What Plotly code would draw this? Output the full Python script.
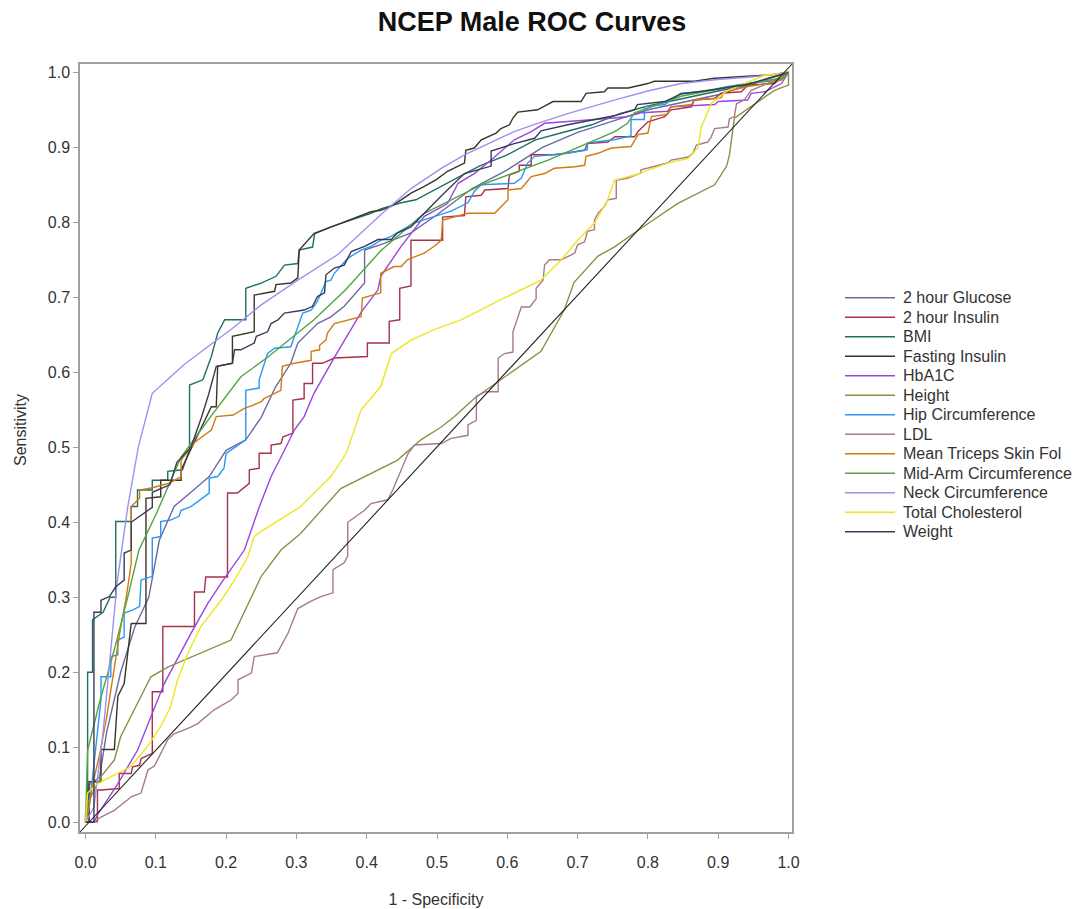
import plotly.graph_objects as go

# ---------------- data ----------------
series_names = ["2 hour Glucose", "2 hour Insulin", "BMI", "Fasting Insulin", "HbA1C", "Height",
                "Hip Circumference", "LDL", "Mean Triceps Skin Fol", "Mid-Arm Circumference",
                "Neck Circumference", "Total Cholesterol", "Weight"]

tick_values = [0.0, 0.1, 0.2, 0.3, 0.4, 0.5, 0.6, 0.7, 0.8, 0.9, 1.0]
tick_labels = ["0.0", "0.1", "0.2", "0.3", "0.4", "0.5", "0.6", "0.7", "0.8", "0.9", "1.0"]

glucose2h_fpr = [0, 0.005, 0.005, 0.02, 0.03, 0.05, 0.07, 0.09, 0.105, 0.126, 0.15, 0.176, 0.2, 0.228, 0.25,
                 0.27, 0.292, 0.302, 0.33, 0.349, 0.368, 0.397, 0.397, 0.425, 0.463, 0.5, 0.55, 0.6, 0.65,
                 0.7, 0.75, 0.8, 0.85, 0.9, 0.95, 1.0]
glucose2h_tpr = [0, 0.0, 0.05, 0.06, 0.12, 0.2, 0.26, 0.3, 0.376, 0.421, 0.44, 0.461, 0.496, 0.51, 0.54,
                 0.58, 0.612, 0.639, 0.665, 0.674, 0.688, 0.719, 0.763, 0.772, 0.786, 0.81, 0.845, 0.87, 0.9,
                 0.92, 0.935, 0.95, 0.96, 0.97, 0.985, 1.0]

insulin2h_fpr = [0, 0.017, 0.017, 0.022, 0.048, 0.048, 0.065, 0.067, 0.077, 0.079, 0.095, 0.095, 0.110, 0.110,
                 0.155, 0.155, 0.169, 0.171, 0.202, 0.202, 0.216, 0.233, 0.233, 0.247, 0.247, 0.264, 0.264,
                 0.278, 0.281, 0.295, 0.295, 0.311, 0.311, 0.323, 0.323, 0.337, 0.354, 0.401, 0.401, 0.432,
                 0.432, 0.447, 0.447, 0.463, 0.463, 0.508, 0.508, 0.539, 0.541, 0.563, 0.568, 0.601, 0.603,
                 0.617, 0.617, 0.634, 0.634, 0.667, 0.710, 0.714, 0.743, 0.753, 0.781, 0.786, 0.800, 0.824,
                 0.833, 0.862, 0.866, 0.895, 0.904, 0.933, 0.942, 0.980, 0.990, 1.0]
insulin2h_tpr = [0, 0.001, 0.043, 0.043, 0.045, 0.065, 0.065, 0.074, 0.076, 0.085, 0.092, 0.174, 0.174, 0.261,
                 0.261, 0.307, 0.307, 0.327, 0.327, 0.439, 0.439, 0.452, 0.470, 0.472, 0.492, 0.492, 0.503,
                 0.505, 0.514, 0.519, 0.563, 0.565, 0.585, 0.585, 0.612, 0.612, 0.619, 0.621, 0.639, 0.639,
                 0.668, 0.670, 0.712, 0.715, 0.776, 0.776, 0.807, 0.809, 0.834, 0.836, 0.843, 0.845, 0.863,
                 0.868, 0.876, 0.876, 0.890, 0.890, 0.896, 0.905, 0.907, 0.914, 0.914, 0.921, 0.934, 0.941,
                 0.950, 0.954, 0.963, 0.965, 0.972, 0.974, 0.983, 0.985, 0.992, 1.0]

bmi_fpr = [0, 0, 0.003, 0.003, 0.010, 0.010, 0.025, 0.035, 0.043, 0.043, 0.065, 0.065, 0.074, 0.074, 0.095,
           0.095, 0.117, 0.117, 0.138, 0.148, 0.148, 0.167, 0.179, 0.188, 0.198, 0.228, 0.228, 0.250, 0.271,
           0.283, 0.302, 0.304, 0.323, 0.326, 0.349, 0.378, 0.406, 0.420, 0.449, 0.470, 0.500, 0.530, 0.560,
           0.600, 0.640, 0.680, 0.720, 0.760, 0.800, 0.850, 0.900, 0.950, 1.0]
bmi_tpr = [0, 0.012, 0.012, 0.200, 0.200, 0.270, 0.280, 0.300, 0.300, 0.401, 0.401, 0.421, 0.421, 0.443, 0.443,
           0.456, 0.456, 0.468, 0.470, 0.497, 0.583, 0.590, 0.621, 0.652, 0.670, 0.670, 0.712, 0.719, 0.728,
           0.743, 0.745, 0.763, 0.767, 0.785, 0.794, 0.803, 0.812, 0.818, 0.826, 0.830, 0.845, 0.860, 0.875,
           0.890, 0.910, 0.920, 0.930, 0.945, 0.955, 0.965, 0.975, 0.985, 1.0]

fasting_fpr = [0, 0.005, 0.005, 0.022, 0.022, 0.041, 0.046, 0.055, 0.065, 0.086, 0.086, 0.107, 0.107, 0.136,
               0.136, 0.179, 0.186, 0.188, 0.209, 0.209, 0.240, 0.240, 0.269, 0.271, 0.292, 0.302, 0.304, 0.325,
               0.361, 0.406, 0.420, 0.434, 0.449, 0.463, 0.482, 0.499, 0.515, 0.527, 0.539, 0.541, 0.553, 0.563,
               0.584, 0.591, 0.603, 0.608, 0.615, 0.643, 0.665, 0.705, 0.712, 0.738, 0.743, 0.772, 0.800, 0.809,
               0.866, 0.895, 0.942, 0.980, 1.0]
fasting_tpr = [0, 0.0, 0.054, 0.054, 0.097, 0.097, 0.168, 0.185, 0.265, 0.265, 0.432, 0.434, 0.456, 0.456,
               0.470, 0.554, 0.554, 0.608, 0.612, 0.648, 0.654, 0.703, 0.708, 0.717, 0.719, 0.726, 0.763, 0.785,
               0.798, 0.814, 0.816, 0.821, 0.830, 0.839, 0.848, 0.857, 0.868, 0.874, 0.879, 0.896, 0.899, 0.910,
               0.919, 0.925, 0.930, 0.939, 0.947, 0.950, 0.961, 0.961, 0.972, 0.974, 0.979, 0.979, 0.985, 0.988,
               0.988, 0.992, 0.995, 0.997, 1.0]

hba1c_fpr = [0, 0.012, 0.017, 0.045, 0.074, 0.095, 0.112, 0.150, 0.174, 0.193, 0.226, 0.247, 0.264, 0.283,
             0.297, 0.311, 0.325, 0.354, 0.392, 0.416, 0.420, 0.449, 0.482, 0.515, 0.530, 0.553, 0.577, 0.610,
             0.634, 0.653, 0.686, 0.714, 0.752, 0.771, 0.790, 0.828, 0.833, 0.895, 0.900, 0.942, 0.947, 0.966,
             0.990, 1.0]
hba1c_tpr = [0, 0.0, 0.010, 0.050, 0.096, 0.145, 0.185, 0.252, 0.292, 0.319, 0.363, 0.420, 0.461, 0.496,
             0.523, 0.541, 0.572, 0.620, 0.680, 0.710, 0.728, 0.768, 0.808, 0.825, 0.852, 0.865, 0.883, 0.910,
             0.921, 0.932, 0.934, 0.936, 0.939, 0.941, 0.946, 0.948, 0.954, 0.957, 0.961, 0.963, 0.972, 0.974,
             0.985, 1.0]

height_fpr = [0, 0.003, 0.022, 0.041, 0.050, 0.069, 0.093, 0.117, 0.207, 0.250, 0.278, 0.306, 0.363, 0.444,
              0.477, 0.506, 0.525, 0.553, 0.586, 0.648, 0.681, 0.695, 0.729, 0.752, 0.795, 0.842, 0.895, 0.912,
              0.916, 0.923, 0.980, 1.0, 1.0]
height_tpr = [0, 0.025, 0.061, 0.083, 0.114, 0.150, 0.194, 0.207, 0.243, 0.328, 0.363, 0.385, 0.445, 0.483,
              0.510, 0.527, 0.541, 0.565, 0.587, 0.628, 0.683, 0.720, 0.755, 0.767, 0.795, 0.825, 0.850, 0.875,
              0.890, 0.939, 0.976, 0.983, 1.0]

hip_fpr = [0, 0.005, 0.010, 0.015, 0.022, 0.022, 0.036, 0.036, 0.046, 0.046, 0.055, 0.055, 0.067, 0.077, 0.079,
           0.095, 0.095, 0.107, 0.107, 0.121, 0.133, 0.136, 0.150, 0.176, 0.176, 0.188, 0.197, 0.200, 0.221,
           0.228, 0.228, 0.247, 0.247, 0.259, 0.269, 0.292, 0.309, 0.321, 0.328, 0.333, 0.342, 0.349, 0.354,
           0.373, 0.392, 0.406, 0.420, 0.434, 0.467, 0.496, 0.520, 0.544, 0.553, 0.563, 0.610, 0.620, 0.629,
           0.639, 0.686, 0.714, 0.714, 0.752, 0.776, 0.776, 0.795, 0.795, 0.824, 0.847, 0.876, 0.914, 0.942,
           0.990, 1.0]
hip_tpr = [0, 0.020, 0.060, 0.100, 0.163, 0.194, 0.194, 0.221, 0.223, 0.243, 0.247, 0.279, 0.283, 0.288, 0.323,
           0.328, 0.379, 0.381, 0.401, 0.403, 0.408, 0.416, 0.421, 0.439, 0.459, 0.461, 0.472, 0.492, 0.505,
           0.510, 0.576, 0.579, 0.590, 0.625, 0.632, 0.634, 0.679, 0.683, 0.692, 0.701, 0.721, 0.723, 0.732,
           0.752, 0.763, 0.768, 0.776, 0.781, 0.799, 0.808, 0.815, 0.826, 0.841, 0.850, 0.852, 0.859, 0.879,
           0.888, 0.892, 0.897, 0.906, 0.910, 0.915, 0.937, 0.937, 0.954, 0.957, 0.972, 0.974, 0.981, 0.985,
           0.990, 1.0]

ldl_fpr = [0, 0.012, 0.022, 0.041, 0.060, 0.065, 0.079, 0.089, 0.098, 0.107, 0.117, 0.126, 0.150, 0.160, 0.183,
           0.207, 0.217, 0.217, 0.236, 0.240, 0.273, 0.288, 0.297, 0.302, 0.321, 0.335, 0.352, 0.352, 0.368,
           0.373, 0.373, 0.397, 0.406, 0.430, 0.437, 0.449, 0.459, 0.468, 0.506, 0.520, 0.544, 0.544, 0.556,
           0.556, 0.568, 0.587, 0.587, 0.596, 0.608, 0.608, 0.620, 0.632, 0.641, 0.641, 0.651, 0.653, 0.660,
           0.677, 0.696, 0.700, 0.710, 0.714, 0.724, 0.724, 0.729, 0.738, 0.743, 0.755, 0.755, 0.772, 0.790,
           0.790, 0.809, 0.828, 0.833, 0.857, 0.864, 0.869, 0.885, 0.890, 0.895, 0.914, 0.916, 0.923, 0.926,
           0.937, 0.947, 0.970, 1.0]
ldl_tpr = [0, 0.0, 0.007, 0.016, 0.030, 0.034, 0.039, 0.070, 0.075, 0.092, 0.110, 0.118, 0.127, 0.132, 0.150,
           0.163, 0.172, 0.190, 0.199, 0.221, 0.226, 0.252, 0.274, 0.285, 0.295, 0.301, 0.306, 0.337, 0.346,
           0.355, 0.400, 0.416, 0.425, 0.430, 0.443, 0.470, 0.492, 0.503, 0.505, 0.512, 0.516, 0.530, 0.536,
           0.568, 0.574, 0.574, 0.619, 0.625, 0.627, 0.654, 0.687, 0.687, 0.698, 0.712, 0.723, 0.743, 0.750,
           0.750, 0.759, 0.770, 0.774, 0.788, 0.790, 0.803, 0.812, 0.821, 0.830, 0.832, 0.856, 0.859, 0.866,
           0.870, 0.874, 0.879, 0.883, 0.887, 0.892, 0.903, 0.907, 0.914, 0.925, 0.927, 0.938, 0.941, 0.958,
           0.963, 0.976, 0.985, 1.0]

triceps_fpr = [0, 0.005, 0.010, 0.020, 0.030, 0.040, 0.050, 0.058, 0.065, 0.065, 0.077, 0.077, 0.095, 0.119,
               0.136, 0.136, 0.155, 0.160, 0.179, 0.181, 0.186, 0.210, 0.226, 0.238, 0.250, 0.254, 0.278, 0.280,
               0.297, 0.321, 0.321, 0.333, 0.333, 0.342, 0.344, 0.354, 0.392, 0.394, 0.420, 0.420, 0.439, 0.449,
               0.458, 0.468, 0.482, 0.496, 0.506, 0.508, 0.530, 0.544, 0.582, 0.586, 0.601, 0.601, 0.620, 0.634,
               0.653, 0.667, 0.696, 0.710, 0.712, 0.729, 0.748, 0.776, 0.786, 0.800, 0.805, 0.828, 0.833, 0.862,
               0.866, 0.904, 0.909, 0.923, 0.942, 0.971, 0.990, 1.0]
triceps_tpr = [0, 0.020, 0.050, 0.090, 0.140, 0.200, 0.260, 0.300, 0.345, 0.421, 0.432, 0.443, 0.446, 0.452,
               0.461, 0.483, 0.506, 0.510, 0.523, 0.528, 0.541, 0.543, 0.552, 0.556, 0.561, 0.565, 0.576, 0.608,
               0.612, 0.616, 0.628, 0.630, 0.636, 0.643, 0.652, 0.665, 0.674, 0.699, 0.706, 0.732, 0.741, 0.741,
               0.750, 0.754, 0.759, 0.768, 0.776, 0.803, 0.808, 0.812, 0.812, 0.816, 0.830, 0.843, 0.845, 0.861,
               0.865, 0.872, 0.874, 0.876, 0.888, 0.892, 0.899, 0.901, 0.917, 0.919, 0.941, 0.944, 0.954, 0.957,
               0.963, 0.966, 0.974, 0.977, 0.981, 0.985, 0.990, 1.0]

midarm_fpr = [0, 0.001, 0.003, 0.020, 0.041, 0.060, 0.076, 0.100, 0.121, 0.136, 0.178, 0.221, 0.259, 0.325,
              0.370, 0.420, 0.482, 0.563, 0.658, 0.753, 0.771, 0.781, 0.847, 0.942, 0.990, 1.0]
midarm_tpr = [0, 0.040, 0.096, 0.160, 0.230, 0.300, 0.363, 0.410, 0.456, 0.487, 0.541, 0.594, 0.620, 0.670,
              0.710, 0.762, 0.812, 0.850, 0.883, 0.921, 0.932, 0.946, 0.968, 0.985, 0.992, 1.0]

neck_fpr = [0, 0.012, 0.025, 0.035, 0.045, 0.060, 0.075, 0.095, 0.140, 0.181, 0.207, 0.250, 0.302, 0.359, 0.420,
            0.463, 0.506, 0.539, 0.610, 0.643, 0.686, 0.752, 0.800, 0.847, 0.895, 0.950, 1.0]
neck_tpr = [0, 0.020, 0.120, 0.220, 0.320, 0.420, 0.500, 0.572, 0.610, 0.639, 0.657, 0.690, 0.723, 0.757, 0.810,
            0.845, 0.872, 0.890, 0.921, 0.932, 0.945, 0.963, 0.975, 0.985, 0.990, 0.994, 1.0]

chol_fpr = [0, 0.002, 0.003, 0.015, 0.026, 0.045, 0.064, 0.088, 0.107, 0.121, 0.131, 0.146, 0.164, 0.193, 0.212,
            0.231, 0.240, 0.250, 0.306, 0.349, 0.371, 0.392, 0.408, 0.420, 0.435, 0.463, 0.496, 0.534, 0.591,
            0.648, 0.677, 0.700, 0.724, 0.743, 0.752, 0.781, 0.828, 0.857, 0.871, 0.876, 0.890, 0.914, 0.937,
            0.966, 0.990, 1.0]
chol_tpr = [0, 0.020, 0.039, 0.050, 0.056, 0.065, 0.074, 0.101, 0.128, 0.154, 0.190, 0.226, 0.261, 0.296, 0.323,
            0.354, 0.381, 0.388, 0.421, 0.461, 0.492, 0.550, 0.567, 0.581, 0.625, 0.643, 0.657, 0.670, 0.697,
            0.723, 0.750, 0.776, 0.799, 0.830, 0.856, 0.863, 0.879, 0.885, 0.899, 0.927, 0.958, 0.976, 0.985,
            0.996, 0.998, 1.0]

weight_fpr = [0, 0.012, 0.012, 0.022, 0.022, 0.034, 0.043, 0.055, 0.055, 0.065, 0.065, 0.080, 0.095, 0.095,
              0.120, 0.130, 0.150, 0.165, 0.175, 0.186, 0.209, 0.212, 0.221, 0.240, 0.243, 0.259, 0.264, 0.274,
              0.283, 0.311, 0.323, 0.330, 0.340, 0.342, 0.354, 0.368, 0.378, 0.397, 0.416, 0.435, 0.444, 0.463,
              0.490, 0.506, 0.539, 0.577, 0.577, 0.610, 0.639, 0.648, 0.686, 0.714, 0.752, 0.781, 0.785, 0.824,
              0.847, 0.895, 0.942, 1.0]
weight_tpr = [0, 0.0, 0.280, 0.280, 0.296, 0.301, 0.314, 0.323, 0.359, 0.363, 0.400, 0.410, 0.420, 0.440,
              0.450, 0.480, 0.500, 0.540, 0.570, 0.608, 0.612, 0.630, 0.630, 0.639, 0.648, 0.654, 0.665, 0.670,
              0.679, 0.683, 0.688, 0.701, 0.706, 0.730, 0.739, 0.743, 0.761, 0.768, 0.777, 0.777, 0.786, 0.794,
              0.820, 0.835, 0.865, 0.875, 0.895, 0.905, 0.912, 0.922, 0.930, 0.935, 0.942, 0.950, 0.957, 0.961,
              0.971, 0.977, 0.984, 1.0]

series_fpr = [glucose2h_fpr, insulin2h_fpr, bmi_fpr, fasting_fpr, hba1c_fpr, height_fpr, hip_fpr, ldl_fpr,
              triceps_fpr, midarm_fpr, neck_fpr, chol_fpr, weight_fpr]
series_tpr = [glucose2h_tpr, insulin2h_tpr, bmi_tpr, fasting_tpr, hba1c_tpr, height_tpr, hip_tpr, ldl_tpr,
              triceps_tpr, midarm_tpr, neck_tpr, chol_tpr, weight_tpr]

# ---------------- styles ----------------
series_colors = ["#6A6AA0", "#A8324A", "#1F6F62", "#3B3426", "#9B45DE", "#8C8F45", "#2C97F2",
                 "#A67B8C", "#D07A14", "#4FA63E", "#9C90F0", "#EDE522", "#3A3A55"]

FONT = "Liberation Sans, Arial, sans-serif"
TEXT = "#333333"
FRAME = "#A0A0A0"

# the page body has an 8px margin; the figure is sized so it ends at the window edge
OFF = 8
W, H = 1081 - OFF, 909 - OFF

def P(v):
    """reference-window pixel -> figure pixel"""
    return v - OFF

# plot area in (figure) pixels
L, R, T, B = P(80), P(792), P(64), P(832)

fig = go.Figure()
for name, xs, ys, col in zip(series_names, series_fpr, series_tpr, series_colors):
    fig.add_trace(go.Scatter(x=xs, y=ys, mode="lines", name=name,
                             line=dict(color=col, width=1.4), showlegend=False))

# chance diagonal (corner to corner of plot area)
fig.add_shape(type="line", xref="paper", yref="paper", x0=0, y0=0, x1=1, y1=1,
              line=dict(color="#222222", width=1.1))

def px_to_paper_x(px):
    return (P(px) - L) / (R - L)

def py_to_paper_y(py):
    return (B - P(py)) / (B - T)

# manual legend, matching the reference spacing
leg_top = 297.7
leg_gap = 19.5
for i, (name, col) in enumerate(zip(series_names, series_colors)):
    yc = py_to_paper_y(leg_top + i * leg_gap)
    fig.add_shape(type="line", xref="paper", yref="paper",
                  x0=px_to_paper_x(845), x1=px_to_paper_x(895), y0=yc, y1=yc,
                  line=dict(color=col, width=1.6))
    fig.add_annotation(xref="paper", yref="paper", x=px_to_paper_x(901), y=yc,
                       text=name, showarrow=False, xanchor="left", yanchor="middle",
                       font=dict(family=FONT, size=16, color=TEXT))

# y axis title at the reference position
fig.add_annotation(xref="paper", yref="paper", x=px_to_paper_x(20), y=py_to_paper_y(430),
                   text="Sensitivity", textangle=-90, showarrow=False,
                   xanchor="center", yanchor="middle",
                   font=dict(family=FONT, size=16, color=TEXT))

x0_px, x1_px = P(85.5), P(788.5)
y0_px, y1_px = P(822.3), P(72.3)
xs_scale = x1_px - x0_px
ys_scale = y0_px - y1_px
xrange = [(L - x0_px) / xs_scale, (R - x0_px) / xs_scale]
yrange = [(y0_px - B) / ys_scale, (y0_px - T) / ys_scale]

fig.update_layout(
    width=W, height=H,
    margin=dict(l=L, r=W - R, t=T, b=H - B),
    paper_bgcolor="white", plot_bgcolor="white",
    showlegend=False,
    title=dict(text="<b>NCEP Male ROC Curves</b>", x=P(532) / W, xref="container", xanchor="center",
               y=1 - P(22) / H, yref="container", yanchor="middle",
               font=dict(family=FONT, size=27, color="#111111")),
    font=dict(family=FONT, size=16, color=TEXT),
    xaxis=dict(range=xrange, tickvals=tick_values, ticktext=tick_labels, showgrid=False, zeroline=False,
               showline=True, mirror=True, linecolor=FRAME, linewidth=1.5, automargin=False,
               ticks="outside", ticklen=5, tickcolor=FRAME, ticklabelstandoff=10,
               tickfont=dict(family=FONT, size=16, color=TEXT),
               title=dict(text="1 - Specificity", standoff=24,
                          font=dict(family=FONT, size=16, color=TEXT))),
    yaxis=dict(range=yrange, tickvals=tick_values, ticktext=tick_labels, showgrid=False, zeroline=False,
               showline=True, mirror=True, linecolor=FRAME, linewidth=1.5, automargin=False,
               ticks="outside", ticklen=5, tickcolor=FRAME, ticklabelstandoff=0,
               tickfont=dict(family=FONT, size=16, color=TEXT)),
)

fig.write_html("out.html")
